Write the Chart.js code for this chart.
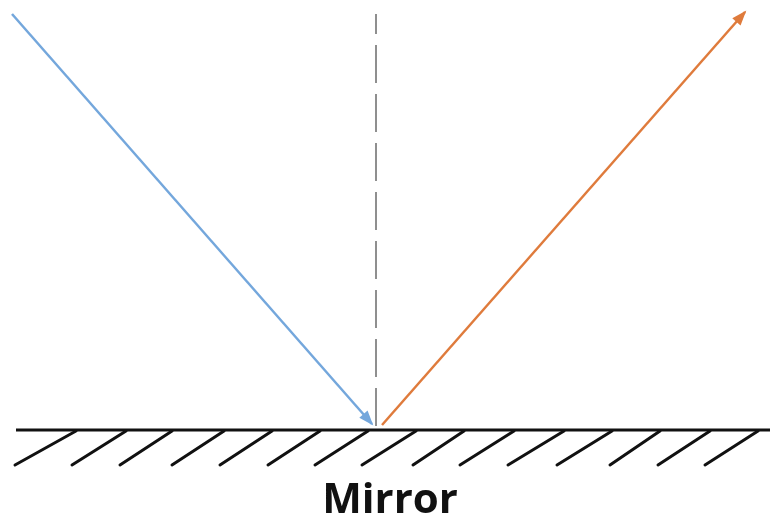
<!DOCTYPE html>
<html>
<head>
<meta charset="utf-8">
<script src="https://cdn.jsdelivr.net/npm/chart.js@4/dist/chart.umd.min.js"></script>
<style>
    html, body { margin: 0; padding: 0; background: #fff; }
    #wrap { width: 770px; height: 524px; position: relative; }
</style>
</head>
<body>
<div id="wrap"><canvas id="mirrorChart"></canvas></div>
<script>
/* ── Diagram data (origin = point of incidence, mirror along y = 0) ── */
const incidentX  = [-364, -4];
const incidentY  = [416, 6];
const reflectX   = [6, 369];
const reflectY   = [5, 418];
const normalX    = [0, 0];
const normalY    = [4, 416];
const mirrorX    = [-360, 394];
const mirrorY    = [0, 0];
const hatchBottomX = [-361, -304, -256, -204, -156, -108, -61, -14, 37, 84, 132, 181, 234, 282, 329];
const hatchTopX    = [-300, -250, -204, -152, -104, -56, -8, 40, 88, 138, 188, 236, 284, 334, 382];
const hatchBottomY = -35;
const hatchTopY    = -1;
const mirrorLabel  = 'Mirror';

function toPoints(xs, ys) {
    return xs.map((x, i) => ({ x: x, y: ys[i] }));
}

/* ── Line datasets ── */
const datasets = [
    {
        data: toPoints(normalX, normalY),
        borderColor: '#8f8f8f', borderWidth: 2, borderDash: [38, 11]
    },
    {
        data: toPoints(incidentX, incidentY),
        borderColor: '#74a7dc', borderWidth: 2.5, arrow: true
    },
    {
        data: toPoints(reflectX, reflectY),
        borderColor: '#df7b3c', borderWidth: 2.5, arrow: true
    },
    {
        data: toPoints(mirrorX, mirrorY),
        borderColor: '#111111', borderWidth: 3
    }
];

hatchBottomX.forEach((bx, i) => {
    datasets.push({
        data: [{ x: bx, y: hatchBottomY }, { x: hatchTopX[i], y: hatchTopY }],
        borderColor: '#111111', borderWidth: 3, borderCapStyle: 'round'
    });
});

datasets.forEach(d => {
    d.showLine = true;
    d.pointRadius = 0;
    d.clip = false;
    d.fill = false;
});

/* ── Arrowheads at the end of flagged rays ── */
const arrowHeads = {
    id: 'arrowHeads',
    afterDatasetsDraw(chart) {
        const ctx = chart.ctx;
        chart.data.datasets.forEach((ds, i) => {
            if (!ds.arrow) return;
            const pts = chart.getDatasetMeta(i).data;
            const a = pts[pts.length - 2];
            const b = pts[pts.length - 1];
            const ang = Math.atan2(b.y - a.y, b.x - a.x);
            const len = 13, half = 5.5;

            ctx.save();
            ctx.translate(b.x, b.y);
            ctx.rotate(ang);
            ctx.fillStyle = ds.borderColor;
            ctx.beginPath();
            ctx.moveTo(2, 0);
            ctx.lineTo(-len, -half);
            ctx.lineTo(-len, half);
            ctx.closePath();
            ctx.fill();
            ctx.restore();
        });
    }
};

new Chart(document.getElementById('mirrorChart'), {
    type: 'scatter',
    data: { datasets: datasets },
    options: {
        responsive: true,
        maintainAspectRatio: false,
        animation: false,
        layout: { padding: { left: 10 } },
        scales: {
            x: { display: false, min: -366, max: 394 },
            y: { display: false, min: -34, max: 430 }
        },
        plugins: {
            legend: { display: false },
            tooltip: { enabled: false },
            title: {
                display: true,
                position: 'bottom',
                text: mirrorLabel,
                color: '#111111',
                font: { family: '"Open Sans", sans-serif', size: 42, weight: 'bold', lineHeight: 1.0 },
                padding: { top: 16, bottom: 2 }
            }
        }
    },
    plugins: [arrowHeads]
});
</script>
</body>
</html>
